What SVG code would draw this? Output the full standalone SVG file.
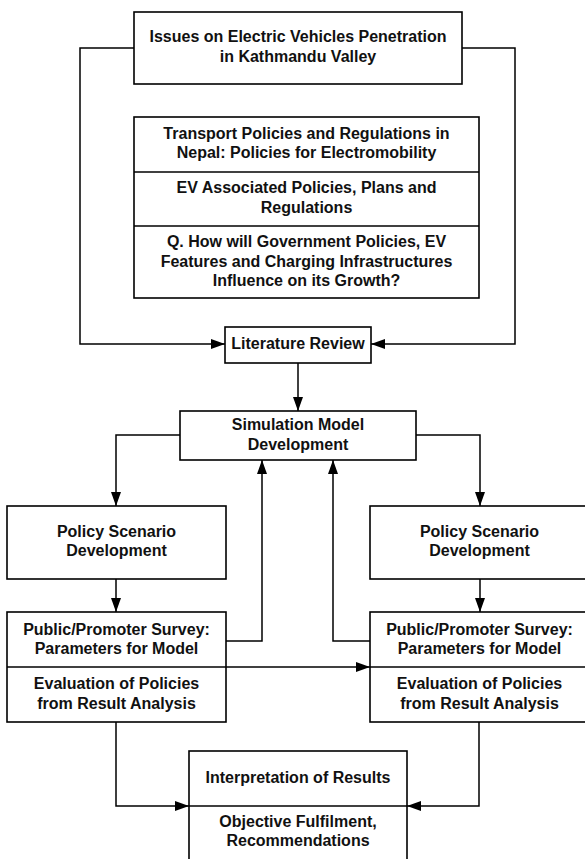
<svg xmlns="http://www.w3.org/2000/svg" width="585" height="859" viewBox="0 0 585 859">
<defs>
<marker id="arr" markerUnits="userSpaceOnUse" markerWidth="14" markerHeight="10" refX="14" refY="5" orient="auto">
<path d="M0,0 L14,5 L0,10 z" fill="#000"/>
</marker>
<style>
.box{fill:#fff;stroke:#000;stroke-width:1.6}
.ln{fill:none;stroke:#000;stroke-width:1.6}
.c{fill:none;stroke:#000;stroke-width:1.5;marker-end:url(#arr)}
text{font-family:"Liberation Sans",Arial,sans-serif;font-weight:bold;font-size:16px;text-anchor:middle;fill:#111}
</style>
</defs>
<rect width="585" height="859" fill="#fff"/>
<g id="connectors">
<polyline class="c" points="134,48 80,48 80,344 225,344"/>
<polyline class="c" points="462,48 515,48 515,344 371,344"/>
<polyline class="c" points="298,363 298,411"/>
<polyline class="c" points="180,435 116,435 116,506"/>
<polyline class="c" points="416,435 480,435 480,506"/>
<polyline class="c" points="116,579 116,612"/>
<polyline class="c" points="480,579 480,612"/>
<polyline class="c" points="226,641 262,641 262,460"/>
<polyline class="c" points="370,641 333,641 333,460"/>
<polyline class="c" points="226,667 370,667"/>
<polyline class="c" points="116,722 116,806 189,806"/>
<polyline class="c" points="479,722 479,806 407,806"/>
</g>
<g id="issues">
<rect class="box" x="134" y="12" width="328" height="72"/>
<text x="298" y="42">Issues on Electric Vehicles Penetration</text>
<text x="298" y="62">in Kathmandu Valley</text>
</g>
<g id="policies">
<rect class="box" x="134" y="117" width="345" height="181"/>
<line class="ln" x1="134" y1="172" x2="479" y2="172"/>
<line class="ln" x1="134" y1="226" x2="479" y2="226"/>
<text x="306.5" y="139">Transport Policies and Regulations in</text>
<text x="306.5" y="158">Nepal: Policies for Electromobility</text>
<text x="306.5" y="193">EV Associated Policies, Plans and</text>
<text x="306.5" y="213">Regulations</text>
<text x="306.5" y="247">Q. How will Government Policies, EV</text>
<text x="306.5" y="267">Features and Charging Infrastructures</text>
<text x="306.5" y="286">Influence on its Growth?</text>
</g>
<g id="literature">
<rect class="box" x="225" y="327" width="146" height="36"/>
<text x="298" y="349">Literature Review</text>
</g>
<g id="simulation">
<rect class="box" x="180" y="411" width="236" height="49"/>
<text x="298" y="430">Simulation Model</text>
<text x="298" y="450">Development</text>
</g>
<g id="policyLeft">
<rect class="box" x="7" y="506" width="219" height="73"/>
<text x="116.5" y="537">Policy Scenario</text>
<text x="116.5" y="556">Development</text>
</g>
<g id="policyRight">
<rect class="box" x="370" y="506" width="219" height="73"/>
<text x="479.5" y="537">Policy Scenario</text>
<text x="479.5" y="556">Development</text>
</g>
<g id="surveyLeft">
<rect class="box" x="7" y="612" width="219" height="110"/>
<line class="ln" x1="7" y1="667" x2="226" y2="667"/>
<text x="116.5" y="635">Public/Promoter Survey:</text>
<text x="116.5" y="654">Parameters for Model</text>
<text x="116.5" y="689">Evaluation of Policies</text>
<text x="116.5" y="709">from Result Analysis</text>
</g>
<g id="surveyRight">
<rect class="box" x="370" y="612" width="219" height="110"/>
<line class="ln" x1="370" y1="667" x2="589" y2="667"/>
<text x="479.5" y="635">Public/Promoter Survey:</text>
<text x="479.5" y="654">Parameters for Model</text>
<text x="479.5" y="689">Evaluation of Policies</text>
<text x="479.5" y="709">from Result Analysis</text>
</g>
<g id="interpretation">
<rect class="box" x="189" y="751" width="218" height="115"/>
<line class="ln" x1="189" y1="806" x2="407" y2="806"/>
<text x="298" y="783">Interpretation of Results</text>
<text x="298" y="827">Objective Fulfilment,</text>
<text x="298" y="846">Recommendations</text>
</g>
</svg>
